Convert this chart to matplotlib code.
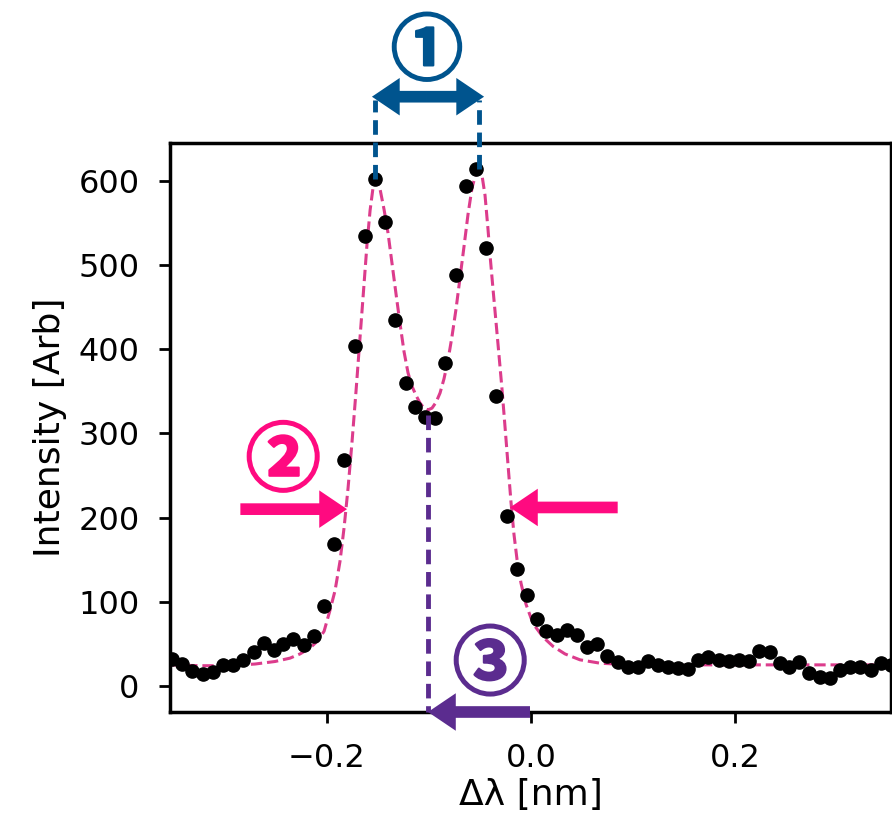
import matplotlib.pyplot as plt
import matplotlib.patheffects as pe

# measured spectrum
dlam = [-0.352, -0.342, -0.332, -0.322, -0.312, -0.302, -0.292, -0.282, -0.272, -0.262,
        -0.252, -0.243, -0.233, -0.223, -0.213, -0.203, -0.193, -0.183, -0.173, -0.163,
        -0.153, -0.143, -0.133, -0.123, -0.114, -0.104, -0.094, -0.084, -0.074, -0.064,
        -0.054, -0.044, -0.034, -0.024, -0.014, -0.004, 0.006, 0.015, 0.025, 0.035,
        0.045, 0.055, 0.065, 0.075, 0.085, 0.095, 0.105, 0.115, 0.125, 0.134,
        0.144, 0.154, 0.164, 0.174, 0.184, 0.194, 0.204, 0.214, 0.224, 0.234,
        0.244, 0.253, 0.263, 0.273, 0.283, 0.293, 0.303, 0.313, 0.323, 0.333,
        0.343, 0.353]
intensity = [32, 26, 18, 14, 16, 25, 25, 31, 40, 51,
             43, 50, 56, 49, 59, 95, 168, 268, 404, 535,
             602, 551, 435, 360, 331, 319, 318, 384, 488, 594,
             614, 520, 345, 202, 139, 108, 80, 65, 61, 67,
             61, 46, 50, 36, 28, 22, 22, 29, 25, 23,
             21, 20, 31, 34, 31, 29, 31, 29, 42, 40,
             27, 23, 28, 15, 10, 9, 19, 22, 22, 19,
             27, 25]

# fitted profile (dashed)
fit_dlam = [-0.354, -0.3245, -0.2951, -0.2706, -0.2510, -0.2363, -0.2265, -0.2167, -0.2088, -0.2029,
            -0.1971, -0.1922, -0.1873, -0.1833, -0.1794, -0.1755, -0.1716, -0.1676, -0.1637, -0.1608,
            -0.1578, -0.1549, -0.1529, -0.1510, -0.1480, -0.1441, -0.1402, -0.1363, -0.1324, -0.1284,
            -0.1245, -0.1206, -0.1167, -0.1127, -0.1088, -0.1049, -0.1010, -0.0971, -0.0931, -0.0892,
            -0.0853, -0.0814, -0.0775, -0.0735, -0.0696, -0.0657, -0.0618, -0.0578, -0.0539, -0.0510,
            -0.0480, -0.0451, -0.0422, -0.0402, -0.0373, -0.0343, -0.0314, -0.0284, -0.0255, -0.0225,
            -0.0196, -0.0167, -0.0137, -0.0098, -0.0049, 0.0020, 0.0118, 0.0216, 0.0333, 0.0480,
            0.0676, 0.0971, 0.3529]
fit_int = [25, 24, 24, 26, 29, 33, 38, 45, 54, 65,
           90, 113, 148, 188, 235, 290, 350, 415, 478, 525,
           565, 592, 601, 599, 590, 566, 538, 502, 466, 430,
           397, 372, 356, 345, 336, 330, 328, 330, 337, 348,
           365, 387, 415, 448, 485, 522, 560, 592, 609, 613,
           606, 583, 543, 512, 472, 432, 393, 352, 308, 262,
           218, 180, 150, 122, 97, 74, 58, 47, 38, 31,
           27, 25, 25]

# annotation anchors
peak1 = (-0.153, 602)
peak2 = (-0.051, 614)
dip = (-0.101, 322)
half_left = (-0.1804, 210)
half_right = (-0.0206, 212)

blue = '#00548E'
pink = '#FF0A80'
purple = '#5B2C8F'
fitcol = '#DC3C8C'
cjk = ['Noto Sans CJK JP', 'DejaVu Sans']

fig = plt.figure(figsize=(8.92, 8.19), dpi=100)
ax = fig.add_axes([170 / 892, 107 / 819, 721 / 892, 569 / 819])

ax.plot(fit_dlam, fit_int, '--', color=fitcol, lw=2.2, zorder=2)
ax.plot(dlam, intensity, 'o', color='black', ms=9.5, zorder=3)

ax.set_xlim(-0.354, 0.353)
ax.set_ylim(-31, 645)
ax.set_xticks([-0.2, 0.0, 0.2])
ax.set_yticks([0, 100, 200, 300, 400, 500, 600])
ax.tick_params(labelsize=23, length=8, width=2)
ax.tick_params(axis='y', pad=14)
ax.tick_params(axis='x', pad=14)
for s in ax.spines.values():
    s.set_linewidth(2.5)
ax.set_xlabel('Δλ [nm]', fontsize=26, labelpad=3)
ax.set_ylabel('Intensity [Arb]', fontsize=26, labelpad=8)


def block_arrow(tail, tip, color, ms=20):
    ax.annotate('', xy=tip, xytext=tail, annotation_clip=False,
                arrowprops=dict(arrowstyle='simple,head_length=1.0,head_width=1.35,tail_width=0.42',
                                color=color, lw=0, shrinkA=0, shrinkB=0,
                                mutation_scale=ms, clip_on=False), zorder=5)


def circled(x, y, s, color, size):
    ax.text(x, y, s, color=color, fontsize=size, fontweight='bold', family=cjk,
            ha='center', va='center', clip_on=False,
            path_effects=[pe.withStroke(linewidth=1.6, foreground=color)])


# 1: peak separation
top = 700
for px, py in (peak1, peak2):
    ax.plot([px, px], [py, top - 4], '--', color=blue, lw=3.5, dashes=(3, 1.6),
            clip_on=False, zorder=4)
mid = (peak1[0] + peak2[0]) / 2
block_arrow((mid, top), (peak1[0] - 0.003, top), blue, ms=20)
block_arrow((mid, top), (peak2[0] + 0.005, top), blue, ms=20)
circled(mid, 752, '①', blue, 52)

# 2: FWHM
block_arrow((-0.285, half_left[1]), half_left, pink)
block_arrow((0.085, half_right[1]), half_right, pink)
circled(-0.243, 265, '②', pink, 54)

# 3: dip shift
ax.plot([dip[0], dip[0]], [dip[1], -31], '--', color=purple, lw=3.5, dashes=(3, 1.6),
        clip_on=False, zorder=4)
block_arrow((-0.001, -31), (dip[0], -31), purple)
circled(-0.040, 23, '③', purple, 54)

fig.savefig('out.png', dpi=100)
